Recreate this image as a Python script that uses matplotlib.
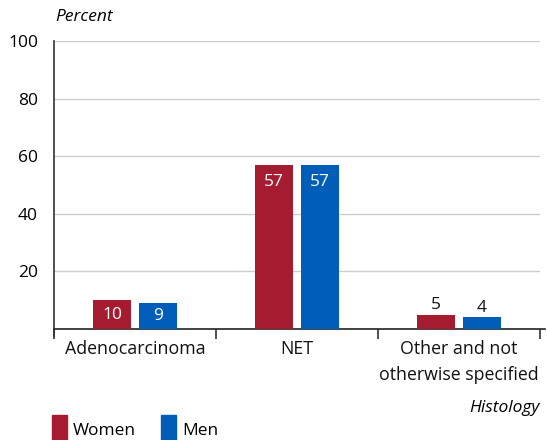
import numpy as np
import matplotlib.pyplot as plt
from matplotlib.patches import Rectangle

categories = ["Adenocarcinoma", "NET", "Other and not\notherwise specified"]
women = [10, 57, 5]
men = [9, 57, 4]
yticks = [20, 40, 60, 80, 100]

RED = "#A51C30"
BLUE = "#005EB8"

plt.rcParams["font.family"] = ["Open Sans", "DejaVu Sans"]

fig = plt.figure(figsize=(5.47, 4.40), dpi=100)
ax = fig.add_axes([54 / 547, 1 - 329 / 440, 486 / 547, 288 / 440])

x = np.arange(len(categories)) + 0.5
w = 0.235
off = 0.142
ax.bar(x - off, women, width=w, color=RED, zorder=3)
ax.bar(x + off, men, width=w, color=BLUE, zorder=3)

# value labels: inside the tall bars, above the short ones
for xs, vals in ((x - off, women), (x + off, men)):
    for xi, v in zip(xs, vals):
        if v >= 8:
            y = v - 6.0 if v > 20 else v / 2
            ax.text(xi, y, str(v), ha="center", va="center",
                    color="white", fontsize=12.5, zorder=4)
        else:
            ax.text(xi, v + 0.6, str(v), ha="center", va="bottom",
                    color="#111111", fontsize=12.5, zorder=4)

ax.set_xlim(0, 3)
ax.set_ylim(0, 100)
ax.set_yticks(yticks)
ax.set_yticklabels([str(t) for t in yticks], fontsize=12.5)
ax.yaxis.grid(True, color="#cccccc", linewidth=1, zorder=0)
ax.tick_params(axis="y", length=0, pad=11.5)

ax.set_xticks([0, 1, 2, 3])
ax.set_xticklabels([])
ax.tick_params(axis="x", length=7, width=1.2, color="#333333", direction="out")
for xi, lab in zip(x, categories):
    ax.text(xi, -3.8, lab, ha="center", va="top", fontsize=12.8,
            color="#111111", linespacing=1.55)

for s in ("top", "right"):
    ax.spines[s].set_visible(False)
ax.spines["left"].set_color("#333333")
ax.spines["left"].set_linewidth(1.2)
ax.spines["left"].set_bounds(-2.5, 100)
ax.spines["bottom"].set_color("#222222")
ax.spines["bottom"].set_linewidth(1.2)
ax.spines["bottom"].set_bounds(0, 3.03)

fig.text(55 / 547, 1 - 17 / 440, "Percent", style="italic", fontsize=12.5,
         va="center", ha="left")
fig.text(540 / 547, 1 - 408 / 440, "Histology", style="italic", fontsize=12.5,
         va="center", ha="right")

# legend
for lx, col, lab in ((52, RED, "Women"), (161, BLUE, "Men")):
    fig.patches.append(Rectangle((lx / 547, 0), 15 / 547, 25 / 440,
                                 transform=fig.transFigure, color=col))
    fig.text((lx + 21) / 547, 1 - 431 / 440, lab, fontsize=12.5,
             va="center", ha="left")

fig.savefig("out.png", dpi=100)
